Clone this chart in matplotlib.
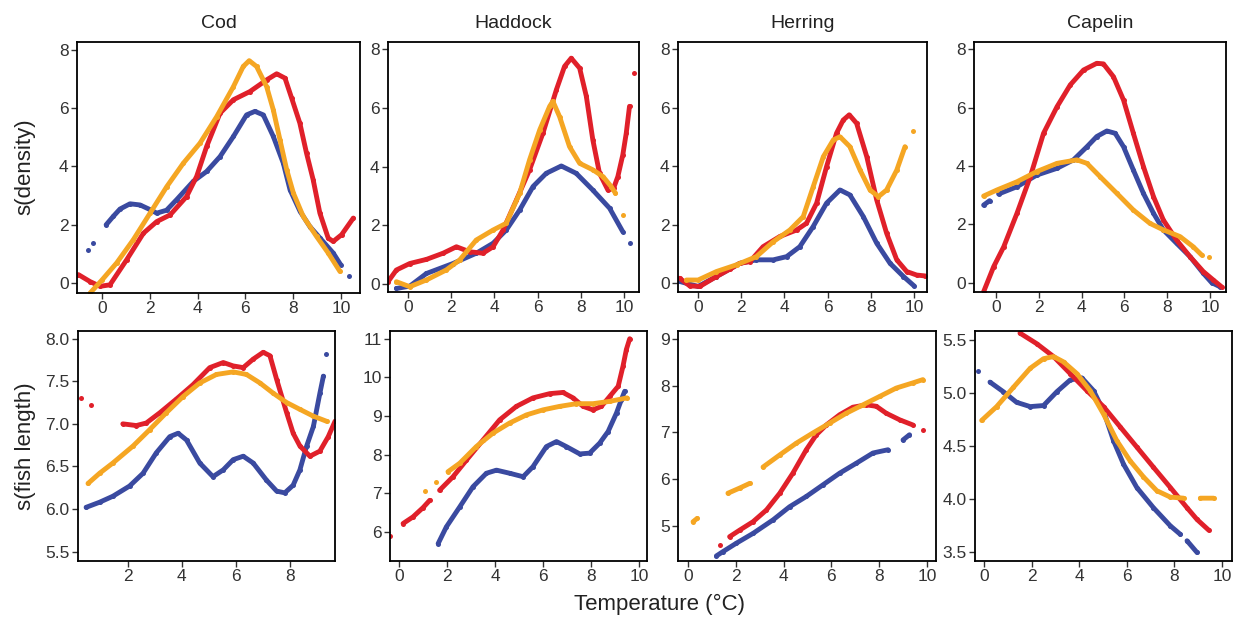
import numpy as np
import matplotlib
matplotlib.use("Agg")
import matplotlib.pyplot as plt

nan = np.nan

# ---------------- Data: s(density) row ----------------
cod_den_blue_x = [-0.57, nan, -0.36, nan, 0.17, 0.47, 0.75, 1.17, 1.59, 2.01, 2.29, 2.7, 3.12, 3.82, 4.38, 4.94, 5.5, 6.05, 6.4, 6.75, 7.17, 7.59, 7.87, 8.29, 8.7, 9.13, 9.68, 9.99, nan, 10.35]
cod_den_blue_y = [1.14, nan, 1.37, nan, 2.0, 2.29, 2.54, 2.72, 2.68, 2.52, 2.4, 2.5, 2.86, 3.49, 3.83, 4.34, 5.03, 5.77, 5.89, 5.77, 5.03, 4.11, 3.2, 2.46, 1.94, 1.54, 1.03, 0.63, nan, 0.23]
cod_den_red_x = [-0.99, -0.5, -0.08, 0.33, 1.03, 1.73, 2.29, 2.85, 3.54, 3.96, 4.38, 4.94, 5.5, 6.19, 6.89, 7.31, 7.66, 7.94, 8.28, 8.56, 8.84, 9.12, 9.47, 9.68, 10.03, 10.52]
cod_den_red_y = [0.29, 0.05, -0.11, -0.06, 0.8, 1.71, 2.11, 2.34, 2.97, 3.66, 4.69, 5.83, 6.29, 6.57, 6.97, 7.18, 7.03, 6.34, 5.49, 4.46, 3.54, 2.4, 1.54, 1.43, 1.66, 2.23]
cod_den_orange_x = [-0.5, 0.0, 0.61, 1.31, 2.01, 2.71, 3.4, 4.1, 4.8, 5.5, 5.91, 6.16, 6.47, 6.89, 7.17, 7.45, 7.73, 8.01, 8.42, 8.98, 9.47, 9.96]
cod_den_orange_y = [-0.34, 0.11, 0.69, 1.49, 2.4, 3.31, 4.11, 4.8, 5.71, 6.74, 7.43, 7.63, 7.43, 6.74, 5.94, 4.91, 3.89, 3.09, 2.29, 1.6, 1.03, 0.4]

had_den_blue_x = [-0.54, 0.08, 0.85, 2.08, 3.16, 3.94, 4.55, 5.17, 5.79, 6.4, 7.1, 7.79, 8.56, 9.34, 9.95, nan, 10.29]
had_den_blue_y = [-0.15, -0.07, 0.36, 0.7, 1.05, 1.39, 1.84, 2.52, 3.32, 3.77, 4.02, 3.77, 3.2, 2.58, 1.78, nan, 1.41]
had_den_red_x = [-0.93, -0.54, 0.08, 0.85, 1.62, 2.24, 2.85, 3.47, 3.94, 4.4, 5.02, 5.63, 6.25, 6.87, 7.25, 7.56, 7.95, 8.26, 8.56, 8.87, 9.26, 9.52, 9.72, 9.95, 10.11, 10.26, nan, 10.49]
had_den_red_y = [0.08, 0.48, 0.7, 0.84, 1.05, 1.27, 1.1, 1.05, 1.27, 1.84, 2.86, 3.89, 5.14, 6.61, 7.41, 7.69, 7.35, 6.39, 4.91, 3.77, 3.2, 3.26, 3.66, 4.4, 5.14, 6.05, nan, 7.18]
had_den_orange_x = [-0.54, 0.08, 0.85, 1.77, 2.39, 3.16, 3.94, 4.55, 5.17, 5.63, 6.1, 6.56, 6.71, 7.02, 7.48, 7.95, 8.56, 9.03, 9.41, 9.61, nan, 9.95]
had_den_orange_y = [0.08, -0.09, 0.14, 0.48, 0.82, 1.5, 1.84, 2.07, 3.09, 4.23, 5.25, 6.05, 6.22, 5.7, 4.68, 4.11, 3.89, 3.66, 3.32, 3.09, nan, 2.35]

her_den_blue_x = [-0.85, 0.0, 0.85, 1.93, 2.7, 3.48, 4.1, 4.71, 5.33, 5.95, 6.57, 7.03, 7.65, 8.27, 8.89, 9.51, 10.0]
her_den_blue_y = [0.06, -0.11, 0.23, 0.68, 0.8, 0.8, 0.91, 1.25, 1.94, 2.74, 3.19, 3.02, 2.28, 1.37, 0.68, 0.23, -0.09]
her_den_red_x = [-0.85, -0.39, 0.08, 0.85, 1.47, 1.93, 2.4, 3.01, 3.79, 4.56, 5.02, 5.49, 5.95, 6.41, 6.72, 7.0, 7.34, 7.81, 8.27, 8.73, 9.2, 9.66, 10.12, 10.51]
her_den_red_y = [0.17, -0.09, -0.11, 0.23, 0.48, 0.68, 0.74, 1.25, 1.6, 1.82, 2.05, 2.74, 3.99, 5.13, 5.58, 5.76, 5.47, 4.33, 2.85, 1.71, 0.8, 0.4, 0.28, 0.25]
her_den_orange_x = [-0.54, 0.0, 0.85, 1.78, 2.7, 3.48, 4.25, 4.87, 5.33, 5.8, 6.26, 6.57, 7.03, 7.5, 7.96, 8.35, 8.73, 9.2, 9.58, nan, 9.94]
her_den_orange_y = [0.11, 0.11, 0.4, 0.63, 0.91, 1.42, 1.82, 2.28, 3.3, 4.33, 4.9, 5.01, 4.67, 3.87, 3.19, 2.96, 3.19, 3.87, 4.67, nan, 5.19]

cap_den_blue_x = [-0.58, -0.3, nan, 0.12, 0.98, 1.91, 2.85, 3.62, 4.25, 4.71, 5.18, 5.57, 5.96, 6.42, 6.89, 7.36, 7.82, 8.44, 9.07, 9.69, 10.08, 10.47]
cap_den_blue_y = [2.66, 2.81, nan, 3.04, 3.29, 3.69, 3.92, 4.21, 4.66, 5.01, 5.2, 5.12, 4.66, 3.86, 3.06, 2.38, 1.81, 1.35, 0.89, 0.32, 0.0, -0.14]
cap_den_red_x = [-0.58, -0.11, 0.36, 0.98, 1.6, 2.22, 2.85, 3.47, 4.09, 4.71, 5.02, 5.49, 5.96, 6.42, 6.89, 7.36, 7.82, 8.44, 9.07, 9.69, 10.16, 10.54]
cap_den_red_y = [-0.31, 0.55, 1.23, 2.38, 3.63, 5.12, 6.03, 6.78, 7.29, 7.52, 7.5, 7.06, 6.26, 5.12, 3.98, 2.95, 2.15, 1.46, 0.89, 0.38, 0.09, -0.14]
cap_den_orange_x = [-0.58, 0.05, 0.98, 1.91, 2.85, 3.78, 4.25, 4.87, 5.65, 6.42, 7.2, 7.82, 8.6, 9.22, 9.61, nan, 9.97]
cap_den_orange_y = [2.97, 3.18, 3.46, 3.81, 4.09, 4.21, 4.09, 3.63, 3.06, 2.49, 2.03, 1.81, 1.58, 1.23, 0.95, nan, 0.87]

# ---------------- Data: s(fish length) row ----------------
cod_len_red_x = [0.27, nan, 0.64, nan, 1.81, 2.31, 2.68, 3.18, 3.79, 4.41, 5.03, 5.53, 5.9, 6.27, 6.64, 7.01, 7.26, 7.51, 7.88, 8.12, 8.37, 8.74, 9.11, 9.42, 9.67]
cod_len_red_y = [7.3, nan, 7.22, nan, 7.0, 6.98, 7.01, 7.13, 7.29, 7.46, 7.66, 7.72, 7.68, 7.66, 7.76, 7.84, 7.8, 7.52, 7.13, 6.89, 6.74, 6.62, 6.68, 6.85, 7.03]
cod_len_blue_x = [0.45, 0.95, 1.44, 2.06, 2.56, 3.05, 3.55, 3.86, 4.17, 4.66, 5.15, 5.53, 5.9, 6.27, 6.64, 7.13, 7.51, 7.81, 8.12, 8.37, 8.62, 8.87, 9.11, 9.24, nan, 9.34]
cod_len_blue_y = [6.02, 6.08, 6.15, 6.27, 6.42, 6.66, 6.85, 6.89, 6.81, 6.54, 6.38, 6.46, 6.58, 6.62, 6.54, 6.34, 6.21, 6.19, 6.28, 6.46, 6.74, 6.97, 7.36, 7.56, nan, 7.82]
cod_len_orange_x = [0.52, 0.95, 1.44, 2.19, 2.8, 3.42, 4.04, 4.66, 5.28, 5.9, 6.39, 6.89, 7.38, 7.88, 8.37, 8.87, 9.36]
cod_len_orange_y = [6.3, 6.42, 6.54, 6.74, 6.93, 7.13, 7.32, 7.48, 7.58, 7.61, 7.58, 7.48, 7.36, 7.25, 7.17, 7.09, 7.03]

had_len_red_x = [-0.36, nan, 0.17, 0.58, 1.0, 1.28, nan, 1.69, 2.25, 2.81, 3.5, 4.19, 4.89, 5.58, 6.28, 6.83, 7.25, 7.67, 8.08, 8.43, 8.78, 9.13, 9.33, 9.47, 9.61]
had_len_red_y = [5.89, nan, 6.22, 6.39, 6.63, 6.82, nan, 7.08, 7.43, 7.86, 8.38, 8.9, 9.25, 9.47, 9.58, 9.61, 9.47, 9.25, 9.16, 9.25, 9.51, 9.77, 10.29, 10.72, 11.0]
had_len_orange_x = [1.07, nan, 1.56, nan, 2.04, 2.53, 3.22, 3.92, 4.61, 5.31, 6.0, 6.69, 7.39, 8.08, 8.78, 9.5]
had_len_orange_y = [7.07, nan, 7.3, nan, 7.56, 7.78, 8.21, 8.56, 8.82, 9.03, 9.16, 9.25, 9.32, 9.32, 9.38, 9.47]
had_len_blue_x = [1.63, 1.97, 2.53, 3.08, 3.64, 4.06, 4.61, 5.17, 5.58, 6.14, 6.56, 6.97, 7.53, 7.94, 8.36, 8.71, 9.06, 9.26, 9.4]
had_len_blue_y = [5.7, 6.13, 6.65, 7.17, 7.52, 7.6, 7.52, 7.43, 7.69, 8.21, 8.34, 8.21, 8.02, 8.04, 8.3, 8.6, 9.08, 9.42, 9.64]

her_len_orange_x = [0.21, 0.38, nan, 1.67, 2.16, 2.58, nan, 3.14, 3.84, 4.53, 5.23, 5.93, 6.62, 7.32, 8.02, 8.72, 9.41, 9.83]
her_len_orange_y = [5.09, 5.16, nan, 5.7, 5.81, 5.91, nan, 6.26, 6.52, 6.77, 6.99, 7.2, 7.41, 7.59, 7.77, 7.95, 8.06, 8.13]
her_len_red_x = [1.32, nan, 1.74, 2.16, 2.72, 3.28, 3.84, 4.39, 4.95, 5.37, 5.79, 6.35, 6.9, 7.46, 7.88, 8.3, 8.86, 9.41, nan, 9.83]
her_len_red_y = [4.59, nan, 4.77, 4.91, 5.09, 5.34, 5.7, 6.13, 6.63, 6.95, 7.16, 7.38, 7.54, 7.59, 7.56, 7.41, 7.27, 7.16, nan, 7.06]
her_len_blue_x = [1.19, 1.46, 2.02, 2.72, 3.56, 4.25, 4.95, 5.65, 6.35, 7.04, 7.74, 8.37, nan, 9.0, 9.27]
her_len_blue_y = [4.36, 4.45, 4.63, 4.84, 5.13, 5.41, 5.63, 5.88, 6.13, 6.34, 6.56, 6.63, nan, 6.84, 6.95]

cap_len_red_x = [1.51, 2.22, 2.92, 3.62, 4.32, 5.02, 5.72, 6.42, 7.12, 7.83, 8.53, 8.95, 9.44]
cap_len_red_y = [5.56, 5.46, 5.34, 5.18, 5.02, 4.87, 4.68, 4.49, 4.3, 4.11, 3.92, 3.81, 3.71]
cap_len_blue_x = [-0.24, nan, 0.25, 0.81, 1.37, 1.94, 2.5, 3.06, 3.62, 4.11, 4.6, 5.02, 5.44, 5.86, 6.42, 7.12, 7.83, 8.25, nan, 8.53, 8.95]
cap_len_blue_y = [5.2, nan, 5.1, 5.01, 4.91, 4.87, 4.88, 5.01, 5.12, 5.14, 5.02, 4.83, 4.55, 4.33, 4.11, 3.92, 3.75, 3.67, nan, 3.61, 3.5]
cap_len_orange_x = [-0.1, 0.53, 1.23, 1.94, 2.5, 2.92, 3.34, 3.9, 4.46, 5.02, 5.58, 6.14, 6.7, 7.26, 7.83, 8.39, nan, 9.09, 9.65]
cap_len_orange_y = [4.74, 4.87, 5.05, 5.23, 5.32, 5.34, 5.29, 5.18, 5.02, 4.8, 4.55, 4.36, 4.21, 4.08, 4.02, 4.01, nan, 4.01, 4.01]

species = ["Cod", "Haddock", "Herring", "Capelin"]
row_labels = ["s(density)", "s(fish length)"]
x_label = "Temperature (°C)"

BLUE = "#3a4aa0"
RED = "#e0202a"
ORANGE = "#f5a623"

plt.rcParams['font.family'] = ['Liberation Sans', 'DejaVu Sans']

W, H = 1236, 622
fig = plt.figure(figsize=(W / 100, H / 100), dpi=100)

def add_ax(l, r, t, b):
    return fig.add_axes([l / W, 1 - b / H, (r - l) / W, (b - t) / H])

boxes = [
    [(77, 360, 42, 293), (388, 639, 42, 292), (678, 927, 42, 292), (974, 1226, 42, 292)],
    [(78, 335, 331, 561), (390, 647, 331, 561), (678, 936, 331, 561), (975, 1232, 331, 561)],
]
xlims = [
    [(-1.05, 10.8), (-0.93, 10.7), (-0.93, 10.6), (-1.03, 10.75)],
    [(0.15, 9.67), (-0.375, 10.33), (-0.42, 10.38), (-0.38, 10.42)],
]
ylims = [
    [(-0.34, 8.27), (-0.27, 8.24), (-0.3, 8.25), (-0.32, 8.25)],
    [(5.39, 8.09), (5.25, 11.2), (4.25, 9.17), (3.42, 5.58)],
]
yticks = [
    [[0, 2, 4, 6, 8]] * 4,
    [[5.5, 6.0, 6.5, 7.0, 7.5, 8.0], [6, 7, 8, 9, 10, 11], [5, 6, 7, 8, 9], [3.5, 4.0, 4.5, 5.0, 5.5]],
]
yfmt = [["{:.0f}"] * 4, ["{:.1f}", "{:.0f}", "{:.0f}", "{:.1f}"]]

series = [
    [
        [(cod_den_blue_x, cod_den_blue_y, BLUE), (cod_den_red_x, cod_den_red_y, RED), (cod_den_orange_x, cod_den_orange_y, ORANGE)],
        [(had_den_blue_x, had_den_blue_y, BLUE), (had_den_red_x, had_den_red_y, RED), (had_den_orange_x, had_den_orange_y, ORANGE)],
        [(her_den_blue_x, her_den_blue_y, BLUE), (her_den_red_x, her_den_red_y, RED), (her_den_orange_x, her_den_orange_y, ORANGE)],
        [(cap_den_blue_x, cap_den_blue_y, BLUE), (cap_den_red_x, cap_den_red_y, RED), (cap_den_orange_x, cap_den_orange_y, ORANGE)],
    ],
    [
        [(cod_len_blue_x, cod_len_blue_y, BLUE), (cod_len_red_x, cod_len_red_y, RED), (cod_len_orange_x, cod_len_orange_y, ORANGE)],
        [(had_len_blue_x, had_len_blue_y, BLUE), (had_len_red_x, had_len_red_y, RED), (had_len_orange_x, had_len_orange_y, ORANGE)],
        [(her_len_blue_x, her_len_blue_y, BLUE), (her_len_red_x, her_len_red_y, RED), (her_len_orange_x, her_len_orange_y, ORANGE)],
        [(cap_len_blue_x, cap_len_blue_y, BLUE), (cap_len_red_x, cap_len_red_y, RED), (cap_len_orange_x, cap_len_orange_y, ORANGE)],
    ],
]

for r in range(2):
    for c in range(4):
        ax = add_ax(*boxes[r][c])
        for xs, ys, col in series[r][c]:
            ax.plot(xs, ys, '-', color=col, lw=3.5, marker='o', ms=3.6, mew=0,
                    solid_capstyle='round', solid_joinstyle='round', clip_on=True)
        ax.set_xlim(*xlims[r][c])
        ax.set_ylim(*ylims[r][c])
        ax.set_xticks([t for t in [0, 2, 4, 6, 8, 10] if xlims[r][c][0] <= t <= xlims[r][c][1]])
        ax.set_yticks(yticks[r][c])
        ax.set_yticklabels([yfmt[r][c].format(v) for v in yticks[r][c]])
        for s in ax.spines.values():
            s.set_linewidth(1.3)
            s.set_color('black')
        ax.tick_params(direction='out', length=4, width=1.0, labelsize=12.5,
                       labelcolor='#333333', color='#333333', pad=2)
        if r == 0:
            ax.set_title(species[c], fontsize=14, pad=10, color='#222222')

fig.text(25 / W, 1 - 167 / H, row_labels[0], rotation=90, ha='center', va='center', fontsize=16, color='#222222')
fig.text(25 / W, 1 - 446 / H, row_labels[1], rotation=90, ha='center', va='center', fontsize=16, color='#222222')
fig.text(660 / W, 1 - 604 / H, x_label, ha='center', va='center', fontsize=16, color='#222222')

fig.savefig("out.png", dpi=100)
